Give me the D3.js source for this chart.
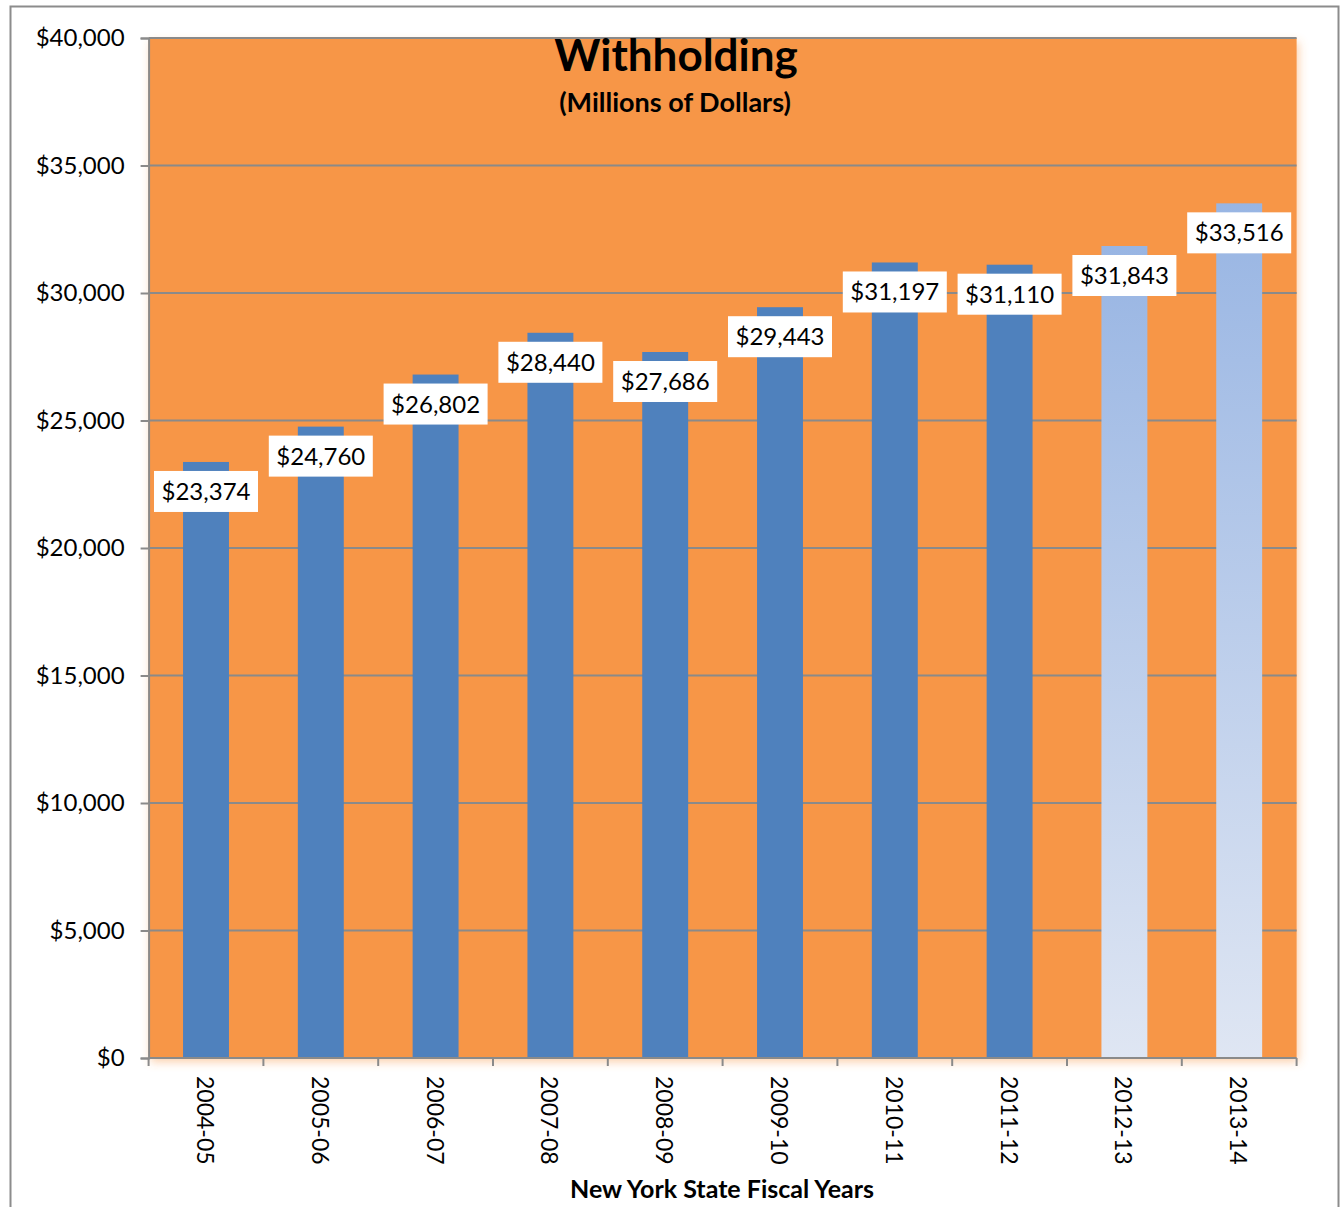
<!DOCTYPE html>
<html>
<head>
<meta charset="utf-8">
<script src="https://cdn.jsdelivr.net/npm/d3@7"></script>
<style>
  html, body { margin: 0; padding: 0; background: #ffffff; }
  svg { display: block; }
  text { font-family: "Lato", "Open Sans", "Noto Sans", sans-serif; fill: #000; }
</style>
</head>
<body>
<svg id="chart" width="1343" height="1207"></svg>
<script>
// Fiscal years and withholding collections (millions of dollars)
const years = ["2004-05", "2005-06", "2006-07", "2007-08", "2008-09",
               "2009-10", "2010-11", "2011-12", "2012-13", "2013-14"];
const withholding = [23374, 24760, 26802, 28440, 27686,
                     29443, 31197, 31110, 31843, 33516];
// Years shown as projections (lighter, graded fill)
const projectedYears = ["2012-13", "2013-14"];
// Value-axis ticks
const yTicks = [0, 5000, 10000, 15000, 20000, 25000, 30000, 35000, 40000];

const titleText = "Withholding";
const subtitleText = "(Millions of Dollars)";
const xAxisTitle = "New York State Fiscal Years";

const data = years.map((y, i) => ({ year: y, value: withholding[i],
                                    projected: projectedYears.includes(y) }));

const svg = d3.select("#chart");
const plot = { left: 148.6, right: 1296.6, top: 38, bottom: 1058 };

const x = d3.scaleBand()
  .domain(years)
  .range([plot.left, plot.right])
  .paddingInner(0.6)
  .paddingOuter(0.3);

const y = d3.scaleLinear()
  .domain([0, 40000])
  .range([plot.bottom, plot.top]);

const money = d3.format("$,");

const defs = svg.append("defs");
const glow = defs.append("filter").attr("id", "plotGlow")
  .attr("x", "-5%").attr("y", "-5%").attr("width", "110%").attr("height", "110%");
glow.append("feDropShadow")
  .attr("dx", 2).attr("dy", 4).attr("stdDeviation", 5)
  .attr("flood-color", "#F79646").attr("flood-opacity", 0.45);

const grad = defs.append("linearGradient").attr("id", "projFill")
  .attr("x1", 0).attr("y1", 0).attr("x2", 0).attr("y2", 1);
grad.append("stop").attr("offset", "0%").attr("stop-color", "#98B5E3");
grad.append("stop").attr("offset", "100%").attr("stop-color", "#DFE6F3");

// Outer chart border
svg.append("rect")
  .attr("x", 10.5).attr("y", 6.5)
  .attr("width", 1328).attr("height", 1220)
  .attr("fill", "none").attr("stroke", "#8c8c8c").attr("stroke-width", 2);

// Plot area background
svg.append("rect")
  .attr("x", plot.left).attr("y", plot.top)
  .attr("width", plot.right - plot.left).attr("height", plot.bottom - plot.top)
  .attr("fill", "#F79646")
  .attr("filter", "url(#plotGlow)");

// Horizontal gridlines
svg.append("g")
  .selectAll("line")
  .data(yTicks.filter(t => t > 0))
  .join("line")
  .attr("x1", plot.left).attr("x2", plot.right)
  .attr("y1", d => y(d)).attr("y2", d => y(d))
  .attr("stroke", "#8a8a8a").attr("stroke-width", 2);

// Value axis
const yAxis = svg.append("g")
  .attr("transform", `translate(${plot.left},0)`)
  .call(d3.axisLeft(y).tickValues(yTicks).tickFormat(money).tickSize(8).tickPadding(16));
yAxis.select(".domain").attr("stroke", "#8a8a8a").attr("stroke-width", 2);
yAxis.selectAll(".tick line").attr("stroke", "#8a8a8a").attr("stroke-width", 2);
yAxis.selectAll(".tick text")
  .style("font-size", "24px")
  .style("font-family", "Lato, 'Open Sans', sans-serif")
  .attr("fill", "#000");

// Bars
svg.append("g")
  .selectAll("rect")
  .data(data)
  .join("rect")
  .attr("x", d => x(d.year))
  .attr("width", x.bandwidth())
  .attr("y", d => y(d.value))
  .attr("height", d => y(0) - y(d.value))
  .attr("fill", d => d.projected ? "url(#projFill)" : "#4F81BD");

// Category axis with ticks between categories
const step = x.step();
const boundaries = years.map(yr => x(yr) - (step - x.bandwidth()) / 2)
  .concat([plot.right]);
const xAxisG = svg.append("g");
xAxisG.append("line")
  .attr("x1", plot.left).attr("x2", plot.right)
  .attr("y1", plot.bottom).attr("y2", plot.bottom)
  .attr("stroke", "#8a8a8a").attr("stroke-width", 2);
xAxisG.selectAll("line.tick")
  .data(boundaries)
  .join("line").attr("class", "tick")
  .attr("x1", d => d).attr("x2", d => d)
  .attr("y1", plot.bottom).attr("y2", plot.bottom + 8)
  .attr("stroke", "#8a8a8a").attr("stroke-width", 2);
xAxisG.selectAll("text")
  .data(years)
  .join("text")
  .attr("transform", d => `translate(${x(d) + x.bandwidth() / 2},${plot.bottom + 18}) rotate(90)`)
  .attr("text-anchor", "start")
  .attr("dominant-baseline", "central")
  .style("font-size", "23px")
  .text(d => d);

// Data labels in white boxes
const labels = svg.append("g")
  .selectAll("g")
  .data(data)
  .join("g")
  .attr("transform", d => `translate(${x(d.year) + x.bandwidth() / 2},${y(d.value) + 29.5})`);
labels.append("rect")
  .attr("x", -52).attr("y", -20.5)
  .attr("width", 104).attr("height", 41)
  .attr("fill", "#ffffff");
labels.append("text")
  .attr("text-anchor", "middle")
  .attr("y", 8.5)
  .style("font-size", "24px")
  .text(d => money(d.value));

// Titles
svg.append("text")
  .attr("x", 676).attr("y", 71)
  .attr("text-anchor", "middle")
  .style("font-size", "44px").style("font-weight", "bold")
  .text(titleText);
svg.append("text")
  .attr("x", 675).attr("y", 112)
  .attr("text-anchor", "middle")
  .style("font-size", "27px").style("font-weight", "bold")
  .text(subtitleText);
svg.append("text")
  .attr("x", 722).attr("y", 1198)
  .attr("text-anchor", "middle")
  .style("font-size", "25px").style("font-weight", "bold")
  .text(xAxisTitle);
</script>
</body>
</html>
